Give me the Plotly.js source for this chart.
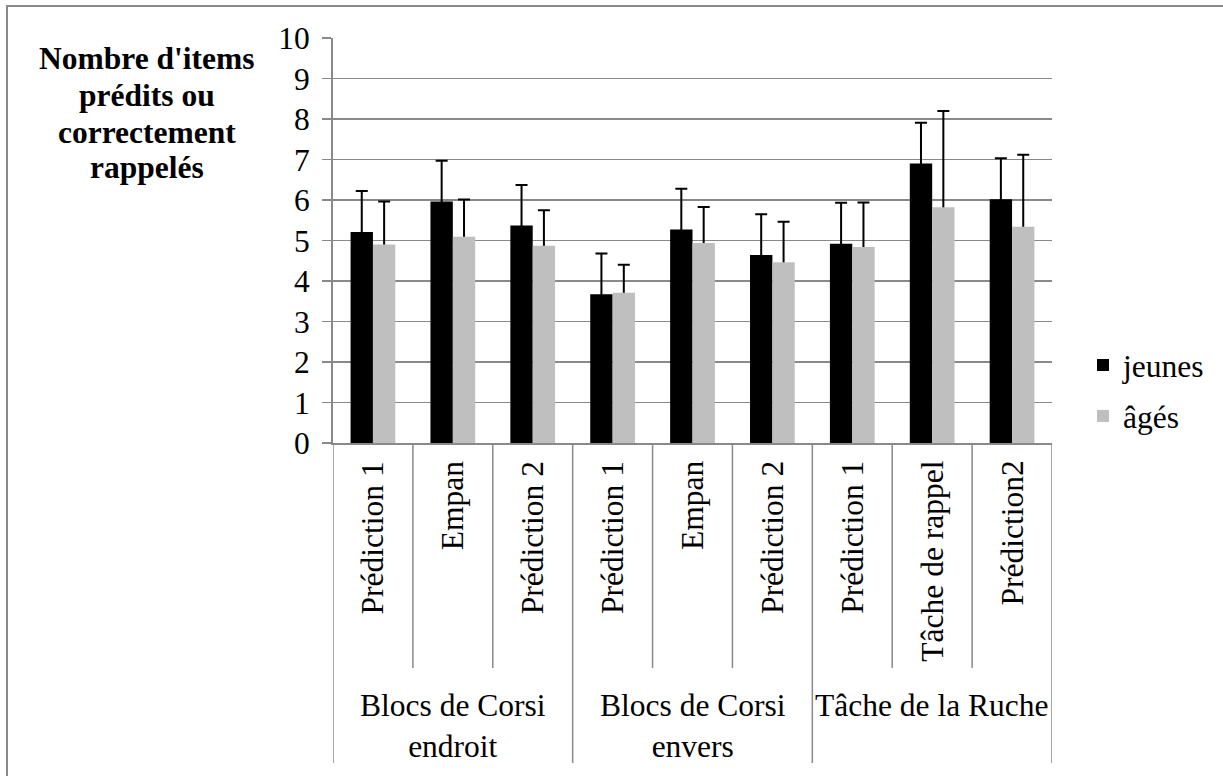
<!DOCTYPE html>
<html>
<head>
<meta charset="utf-8">
<script src="https://cdn.plot.ly/plotly-3.0.1.min.js"></script>
<style>html,body{margin:0;padding:0;background:#fff;}#chart{width:1223px;height:776px;}</style>
</head>
<body>
<div id="chart"></div>
<script>
// ---- data ----
const groupLabels = ['Blocs de Corsi<br>endroit', 'Blocs de Corsi<br>envers', 'Tâche de la Ruche'];
const groupSizes = [3, 3, 3];
const items = ['Prédiction 1', 'Empan', 'Prédiction 2', 'Prédiction 1', 'Empan', 'Prédiction 2', 'Prédiction 1', 'Tâche de rappel', 'Prédiction2'];
const jeunes = [5.21, 5.96, 5.37, 3.67, 5.27, 4.64, 4.92, 6.90, 6.02];
const ages = [4.90, 5.09, 4.87, 3.71, 4.94, 4.46, 4.84, 5.82, 5.34];
const sdJeunes = [1.01, 1.01, 1.00, 1.01, 1.01, 1.01, 1.01, 1.01, 1.01];
const sdAges = [1.06, 0.92, 0.88, 0.69, 0.89, 1.00, 1.10, 2.38, 1.78];
const seriesNames = ['jeunes', 'âgés'];
const yTitleLines = ["Nombre d'items", 'prédits ou', 'correctement', 'rappelés'];
const yTicks = [0, 1, 2, 3, 4, 5, 6, 7, 8, 9, 10];

// ---- build ----
const FONT = 'Liberation Serif';
const FS = 31.5;
const GRID = '#898989';
const cats = [];
let gi = 0, cnt = 0;
items.forEach((it, i) => {
  cats.push(groupLabels[gi].replace('<br>', ' ') + ' | ' + it + ' #' + i);
  cnt++;
  if (cnt === groupSizes[gi]) { gi++; cnt = 0; }
});

function carrier(y, sd, grp) {
  return {
    type: 'bar', x: cats, y: y, offsetgroup: grp, showlegend: false, hoverinfo: 'skip',
    marker: {color: 'rgba(0,0,0,0)', line: {width: 0}},
    error_y: {type: 'data', array: sd, symmetric: true, color: '#000', thickness: 2, width: 6}
  };
}
const traces = [
  carrier(jeunes, sdJeunes, 'j'),
  carrier(ages, sdAges, 'a'),
  {type: 'bar', x: cats, y: jeunes, name: seriesNames[0], offsetgroup: 'j', legendgroup: 'j',
   marker: {color: '#000000', line: {width: 0}}},
  {type: 'bar', x: cats, y: ages, name: seriesNames[1], offsetgroup: 'a', legendgroup: 'a',
   marker: {color: '#bfbfbf', line: {width: 0}}}
];

const H = 405; // plot height px
const shapes = [];
let start = 0;
const groupBounds = [-0.5];
groupSizes.forEach(s => { start += s; groupBounds.push(start - 0.5); });
for (let k = 0; k <= items.length; k++) {
  const b = k - 0.5;
  const isGroup = groupBounds.indexOf(b) >= 0;
  shapes.push({type: 'line', xref: 'x', yref: 'paper', x0: b, x1: b, y0: 0,
    y1: isGroup ? -320 / H : -225 / H, line: {color: GRID, width: 1.5}, layer: 'below'});
}
shapes.push({type: 'rect', xref: 'paper', yref: 'paper', x0: (7 - 333) / 719, x1: 1.5,
  y0: -1.5, y1: (443 - 6) / H, line: {color: GRID, width: 2}, fillcolor: 'rgba(0,0,0,0)', layer: 'below'});

const annotations = [];
items.forEach((it, i) => {
  annotations.push({text: it, xref: 'x', yref: 'paper', x: i, y: -16 / H, xanchor: 'center', yanchor: 'top',
    textangle: -90, showarrow: false, font: {family: FONT, size: FS, color: '#000'}});
});
let s0 = 0;
groupLabels.forEach((g, k) => {
  const c = s0 + (groupSizes[k] - 1) / 2;
  s0 += groupSizes[k];
  annotations.push({text: g, xref: 'x', yref: 'paper', x: c, y: -243 / H, xanchor: 'center', yanchor: 'top',
    showarrow: false, font: {family: FONT, size: FS, color: '#000'}});
});
const titleY = [58, 95, 132, 167];
yTitleLines.forEach((t, k) => {
  annotations.push({text: '<b>' + t + '</b>', xref: 'paper', yref: 'paper', x: (147 - 333) / 719,
    y: (443 - titleY[k]) / H, xanchor: 'center', yanchor: 'middle', showarrow: false,
    font: {family: FONT, size: FS, color: '#000'}});
});

const layout = {
  width: 1223, height: 776,
  margin: {l: 333, r: 171, t: 38, b: 333, pad: 0},
  paper_bgcolor: '#ffffff', plot_bgcolor: '#ffffff',
  font: {family: FONT, size: FS, color: '#000'},
  barmode: 'group', bargap: 0.44, bargroupgap: 0,
  xaxis: {type: 'category', categoryorder: 'array', categoryarray: cats, range: [-0.5, items.length - 0.5],
    showticklabels: false, ticks: '', showgrid: false, zeroline: false,
    showline: true, linecolor: GRID, linewidth: 2},
  yaxis: {range: [0, 10], tickvals: yTicks, ticktext: yTicks.map(String), ticks: 'outside', ticklen: 9,
    tickwidth: 1.5, tickcolor: GRID, showgrid: true, gridcolor: GRID, gridwidth: 1.5, zeroline: false,
    showline: true, linecolor: GRID, linewidth: 2, ticklabelstandoff: 6,
    tickfont: {family: FONT, size: FS, color: '#000'}},
  showlegend: true,
  legend: {x: (1083 - 333) / 719, xanchor: 'left', y: (443 - 338) / H, yanchor: 'top',
    font: {family: FONT, size: FS, color: '#000'}, tracegroupgap: 7, bgcolor: 'rgba(0,0,0,0)',
    borderwidth: 0},
  shapes: shapes,
  annotations: annotations
};

Plotly.newPlot('chart', traces, layout, {displayModeBar: false, staticPlot: true});
</script>
</body>
</html>
